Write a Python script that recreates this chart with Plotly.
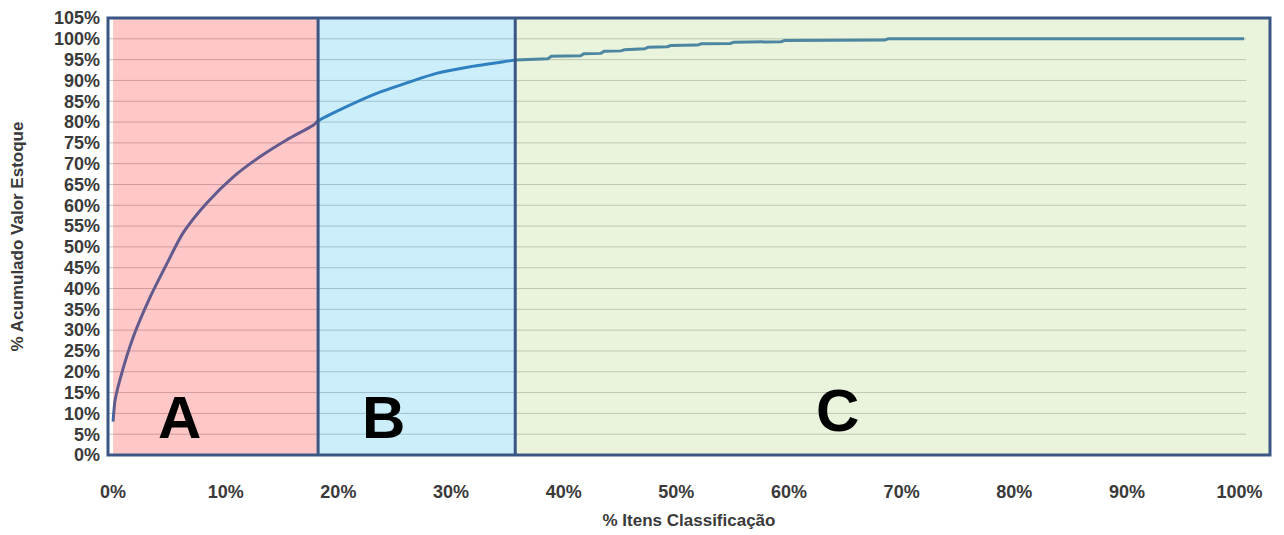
import plotly.graph_objects as go

# Cumulative ABC curve (% of items vs % cumulative stock value)
items_pct = [0.0, 0.18, 0.6, 1.8, 3.3, 4.8, 6.2, 8.3, 10.7, 13.0, 15.4, 17.8,
             18.2, 20.4, 23.4, 26.4, 28.7, 31.7, 35.2,
             35.7, 38.6, 38.9, 41.5, 41.8, 43.3, 43.6, 45.1, 45.4, 47.2,
             47.5, 49.2, 49.5, 51.9, 52.2, 54.8, 55.1, 59.3, 59.6, 68.5,
             68.8, 100.4]
value_pct = [8.0, 13.2, 18.0, 28.4, 38.0, 46.1, 53.3, 60.5, 66.9, 71.6, 75.7, 79.3,
             80.3, 83.3, 86.9, 89.7, 91.7, 93.3, 94.7,
             94.9, 95.2, 95.8, 95.9, 96.4, 96.5, 97.0, 97.1, 97.4, 97.6,
             98.0, 98.1, 98.4, 98.5, 98.8, 98.9, 99.2, 99.3, 99.6, 99.7,
             100.0, 100.0]
SPLIT = 19  # index of the point at the B/C boundary

class_labels = ["A", "B", "C"]
class_bounds = [0.0, 18.2, 35.7, 102.7]
class_fills = ["rgba(255,35,35,0.25)", "rgba(51,187,239,0.25)", "rgba(171,211,115,0.25)"]
label_pos_x = [5.9, 24.0, 64.3]
label_pos_y = [8.9, 8.9, 10.8]

y_ticks = list(range(0, 106, 5))
x_ticks = list(range(0, 101, 10))

X_MIN, X_MAX = -0.45, 102.7
GRID_END = 100.6

FONT_FAMILY = "Liberation Sans, Arial, sans-serif"
TICK_FONT = dict(family=FONT_FAMILY, size=18, color="#3a3a3a", weight="bold")
TITLE_FONT = dict(family=FONT_FAMILY, size=17, color="#3a3a3a", weight="bold")
BORDER = "#3B5684"
LINE_COLOR = "#2E6DB0"

fig = go.Figure()
fig.add_trace(go.Scatter(x=items_pct[:SPLIT + 1], y=value_pct[:SPLIT + 1], mode="lines",
                         line=dict(color=LINE_COLOR, width=3, shape="spline", smoothing=0.7),
                         showlegend=False, hoverinfo="skip"))
fig.add_trace(go.Scatter(x=items_pct[SPLIT:], y=value_pct[SPLIT:], mode="lines",
                         line=dict(color=LINE_COLOR, width=3),
                         showlegend=False, hoverinfo="skip"))

shapes = []
# horizontal gridlines (end short of the right border, as in the original)
for v in y_ticks[1:-1]:
    shapes.append(dict(type="line", xref="x", yref="y", x0=X_MIN, x1=GRID_END, y0=v, y1=v,
                       line=dict(color="#C4C4C4", width=1), layer="below"))
for i in range(3):
    shapes.append(dict(type="rect", xref="x", yref="paper",
                       x0=max(class_bounds[i], X_MIN), x1=class_bounds[i + 1],
                       y0=0, y1=1, fillcolor=class_fills[i], line=dict(width=0),
                       layer="above"))
for b in class_bounds[1:3]:
    shapes.append(dict(type="line", xref="x", yref="paper", x0=b, x1=b, y0=0, y1=1,
                       line=dict(color=BORDER, width=3), layer="above"))
shapes.append(dict(type="rect", xref="paper", yref="paper", x0=0, x1=1, y0=0, y1=1,
                   line=dict(color=BORDER, width=3), fillcolor="rgba(0,0,0,0)",
                   layer="above"))

annotations = []
for lab, ax_, ay_ in zip(class_labels, label_pos_x, label_pos_y):
    annotations.append(dict(x=ax_, y=ay_, xref="x", yref="y", text=lab, showarrow=False,
                            font=dict(family=FONT_FAMILY, size=60, color="black",
                                      weight="bold"),
                            xanchor="center", yanchor="middle"))

fig.update_layout(
    width=1284, height=535,
    margin=dict(l=100, r=22, t=10, b=88),
    paper_bgcolor="white", plot_bgcolor="white",
    shapes=shapes, annotations=annotations,
    xaxis=dict(range=[X_MIN, X_MAX], tickvals=x_ticks, automargin=False,
               ticktext=[f"{v}%" for v in x_ticks], tickfont=TICK_FONT,
               showgrid=False, zeroline=False, showline=False,
               ticks="", ticklabelstandoff=24,
               title=dict(text="% Itens Classificação", font=TITLE_FONT, standoff=13)),
    yaxis=dict(range=[0, 105], tickvals=y_ticks, automargin=False,
               ticktext=[f"{v}%" for v in y_ticks], tickfont=TICK_FONT,
               showgrid=False, zeroline=False, showline=False, ticks="",
               ticklabelstandoff=7,
               title=dict(text="% Acumulado Valor Estoque", font=TITLE_FONT, standoff=28)),
)

fig.write_html("out.html")
